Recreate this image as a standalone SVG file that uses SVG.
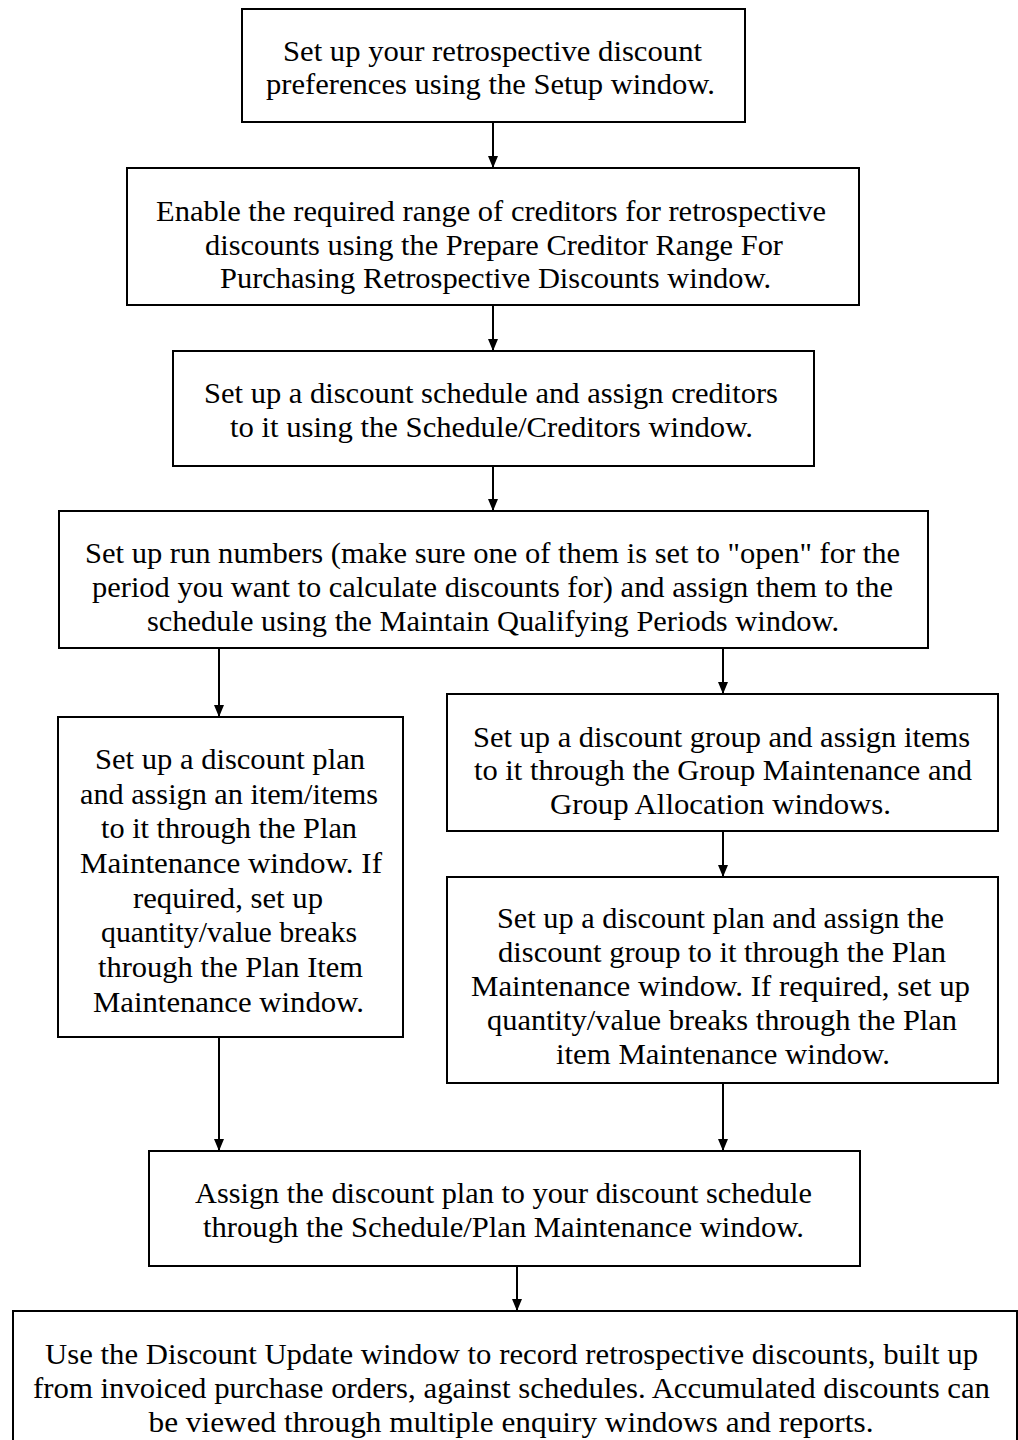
<svg xmlns="http://www.w3.org/2000/svg" width="1018" height="1440" viewBox="0 0 1018 1440">
<style>
.box{fill:#fff;stroke:#000;stroke-width:2}
.t{font-family:"Liberation Serif","Times New Roman",serif;font-size:29px;fill:#000;text-anchor:middle}
.c{stroke:#000;stroke-width:2;fill:none;marker-end:url(#ah)}
</style>
<defs>
<marker id="ah" viewBox="0 0 12 10" markerWidth="12" markerHeight="10" refX="12" refY="5" orient="auto" markerUnits="userSpaceOnUse">
<path d="M0,0 L12,5 L0,10 z" fill="#000"/>
</marker>
</defs>
<rect width="1018" height="1440" fill="#fff"/>
<g id="connectors">
<line class="c" x1="493" y1="122" x2="493" y2="168"/>
<line class="c" x1="493" y1="305" x2="493" y2="351"/>
<line class="c" x1="493" y1="466" x2="493" y2="511"/>
<line class="c" x1="219" y1="648" x2="219" y2="717"/>
<line class="c" x1="723" y1="648" x2="723" y2="694"/>
<line class="c" x1="723" y1="831" x2="723" y2="877"/>
<line class="c" x1="219" y1="1037" x2="219" y2="1151"/>
<line class="c" x1="723" y1="1083" x2="723" y2="1151"/>
<line class="c" x1="517" y1="1266" x2="517" y2="1311"/>
</g>
<g id="n1">
<rect class="box" x="242" y="9" width="503" height="113"/>
<text class="t" x="492.5" y="61" textLength="419" lengthAdjust="spacingAndGlyphs">Set up your retrospective discount</text>
<text class="t" x="490.5" y="94" textLength="449" lengthAdjust="spacingAndGlyphs">preferences using the Setup window.</text>
</g>
<g id="n2">
<rect class="box" x="127" y="168" width="732" height="137"/>
<text class="t" x="491" y="221" textLength="670" lengthAdjust="spacingAndGlyphs">Enable the required range of creditors for retrospective</text>
<text class="t" x="494" y="255" textLength="578" lengthAdjust="spacingAndGlyphs">discounts using the Prepare Creditor Range For</text>
<text class="t" x="495.5" y="288" textLength="551" lengthAdjust="spacingAndGlyphs">Purchasing Retrospective Discounts window.</text>
</g>
<g id="n3">
<rect class="box" x="173" y="351" width="641" height="115"/>
<text class="t" x="491" y="403" textLength="574" lengthAdjust="spacingAndGlyphs">Set up a discount schedule and assign creditors</text>
<text class="t" x="491.5" y="437" textLength="523" lengthAdjust="spacingAndGlyphs">to it using the Schedule/Creditors window.</text>
</g>
<g id="n4">
<rect class="box" x="59" y="511" width="869" height="137"/>
<text class="t" x="492.5" y="563" textLength="815" lengthAdjust="spacingAndGlyphs">Set up run numbers (make sure one of them is set to "open" for the</text>
<text class="t" x="492.5" y="597" textLength="801" lengthAdjust="spacingAndGlyphs">period you want to calculate discounts for) and assign them to the</text>
<text class="t" x="493" y="631" textLength="692" lengthAdjust="spacingAndGlyphs">schedule using the Maintain Qualifying Periods window.</text>
</g>
<g id="n5">
<rect class="box" x="58" y="717" width="345" height="320"/>
<text class="t" x="230" y="769" textLength="270" lengthAdjust="spacingAndGlyphs">Set up a discount plan</text>
<text class="t" x="229" y="804" textLength="298" lengthAdjust="spacingAndGlyphs">and assign an item/items</text>
<text class="t" x="229" y="838" textLength="256" lengthAdjust="spacingAndGlyphs">to it through the Plan</text>
<text class="t" x="231" y="873" textLength="302" lengthAdjust="spacingAndGlyphs">Maintenance window. If</text>
<text class="t" x="228" y="908" textLength="190" lengthAdjust="spacingAndGlyphs">required, set up</text>
<text class="t" x="229" y="942" textLength="256" lengthAdjust="spacingAndGlyphs">quantity/value breaks</text>
<text class="t" x="230.5" y="977" textLength="265" lengthAdjust="spacingAndGlyphs">through the Plan Item</text>
<text class="t" x="228.5" y="1012" textLength="271" lengthAdjust="spacingAndGlyphs">Maintenance window.</text>
</g>
<g id="n6">
<rect class="box" x="447" y="694" width="551" height="137"/>
<text class="t" x="721.5" y="747" textLength="497" lengthAdjust="spacingAndGlyphs">Set up a discount group and assign items</text>
<text class="t" x="723" y="780" textLength="498" lengthAdjust="spacingAndGlyphs">to it through the Group Maintenance and</text>
<text class="t" x="720.5" y="814" textLength="341" lengthAdjust="spacingAndGlyphs">Group Allocation windows.</text>
</g>
<g id="n7">
<rect class="box" x="447" y="877" width="551" height="206"/>
<text class="t" x="720.5" y="928" textLength="447" lengthAdjust="spacingAndGlyphs">Set up a discount plan and assign the</text>
<text class="t" x="722" y="962" textLength="448" lengthAdjust="spacingAndGlyphs">discount group to it through the Plan</text>
<text class="t" x="720.5" y="996" textLength="499" lengthAdjust="spacingAndGlyphs">Maintenance window. If required, set up</text>
<text class="t" x="722" y="1030" textLength="470" lengthAdjust="spacingAndGlyphs">quantity/value breaks through the Plan</text>
<text class="t" x="723" y="1064" textLength="334" lengthAdjust="spacingAndGlyphs">item Maintenance window.</text>
</g>
<g id="n8">
<rect class="box" x="149" y="1151" width="711" height="115"/>
<text class="t" x="503.5" y="1203" textLength="617" lengthAdjust="spacingAndGlyphs">Assign the discount plan to your discount schedule</text>
<text class="t" x="503.5" y="1237" textLength="601" lengthAdjust="spacingAndGlyphs">through the Schedule/Plan Maintenance window.</text>
</g>
<g id="n9">
<rect class="box" x="13" y="1311" width="1004" height="140"/>
<text class="t" x="511.5" y="1364" textLength="933" lengthAdjust="spacingAndGlyphs">Use the Discount Update window to record retrospective discounts, built up</text>
<text class="t" x="511.5" y="1398" textLength="957" lengthAdjust="spacingAndGlyphs">from invoiced purchase orders, against schedules. Accumulated discounts can</text>
<text class="t" x="511" y="1432" textLength="725" lengthAdjust="spacingAndGlyphs">be viewed through multiple enquiry windows and reports.</text>
</g>
</svg>
